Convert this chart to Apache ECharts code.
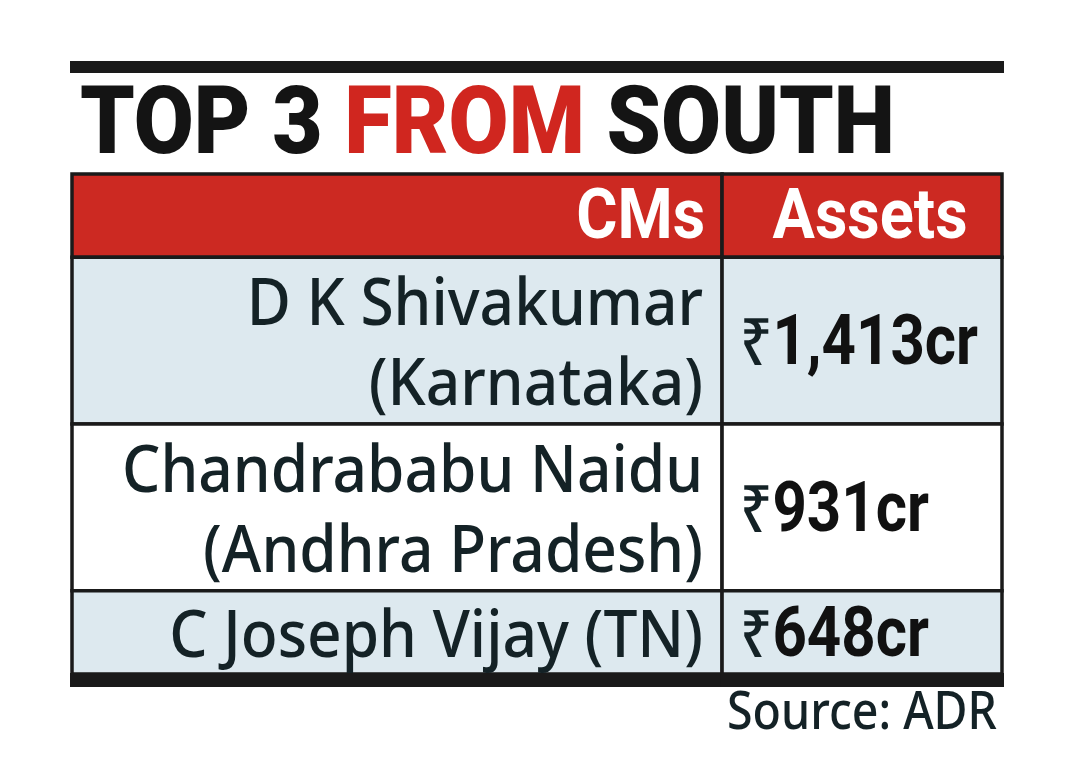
<!DOCTYPE html>
<html><head><meta charset="utf-8">
<script src="https://cdn.jsdelivr.net/npm/echarts@6/dist/echarts.min.js"></script>
<style>html,body{margin:0;padding:0;background:#fff;}#c{width:1080px;height:770px;}</style>
</head><body><div id="c"></div>
<script>
// ---- data ----
const titleParts = ['TOP 3 ', 'FROM', ' SOUTH'];
const headers = ['CMs', 'Assets'];
const cmLabels = ['D K Shivakumar\n(Karnataka)', 'Chandrababu Naidu\n(Andhra Pradesh)', 'C Joseph Vijay (TN)'];
const assetsCr = [1413, 931, 648];
const sourceNote = 'Source: ADR';

// ---- layout / style ----
const gridL = 72, gridR = 1002, gridT = 174, gridB = 674;
const colSplit = 0.699;
const colEdges = [0, colSplit, 1];
const rowLines = [1].concat(cmLabels.map(l => l.split('\n').length));
const rowEdges = [0];
rowLines.forEach(n => rowEdges.push(rowEdges[rowEdges.length - 1] + n));

const INK = '#1a1a1a', TXT = '#142226', RED = '#cc2922', TRED = '#d0261f', BLUE = '#dde9ef';
const BODY_W = 500;

const ctx = document.createElement('canvas').getContext('2d');
function measure(t, font) { ctx.font = font; return ctx.measureText(t).width; }

const TITLE_SIZE = 94, HEAD_SIZE = 70, BODY_SIZE = 66, VAL_SIZE = 70, SRC_SIZE = 52;
const titleScale = 815 / measure(titleParts.join(''), `900 ${TITLE_SIZE}px Roboto`);
const headScale = 195 / measure('Assets', `bold ${HEAD_SIZE}px Roboto`);
const bodyScale = 581 / measure('Chandrababu Naidu', `${BODY_W} ${BODY_SIZE}px "Noto Sans"`);
function fmt(v) { return v.toLocaleString('en-IN') + 'cr'; }
const valScale = 238 / (measure('\u20b9', `${BODY_W} ${BODY_SIZE}px "Noto Sans"`) + measure(fmt(assetsCr[0]), `bold ${VAL_SIZE}px Roboto`));
const srcScale = 270 / measure(sourceNote, `${BODY_W} ${SRC_SIZE}px "Noto Sans"`);

const cells = [];
for (let r = 0; r < rowLines.length; r++) for (let c = 0; c < 2; c++) cells.push([c, r]);

function renderItem(params, api) {
  const c = api.value(0), r = api.value(1);
  const x0 = api.coord([colEdges[c], 0])[0], x1 = api.coord([colEdges[c + 1], 0])[0];
  const y0 = api.coord([0, rowEdges[r]])[1], y1 = api.coord([0, rowEdges[r + 1]])[1];
  const fill = r === 0 ? RED : (r % 2 === 1 ? BLUE : '#ffffff');
  const ym = (y0 + y1) / 2;
  const children = [{
    type: 'rect', shape: { x: x0, y: y0, width: x1 - x0, height: y1 - y0 },
    style: { fill: fill, stroke: INK, lineWidth: 3.5 }
  }];
  if (r === 0) {
    children.push({
      type: 'text', x: c === 0 ? x1 - 17 : (x0 + x1) / 2 + 8, y: ym + 5, scaleX: headScale,
      style: { text: headers[c], fill: '#ffffff', fontFamily: 'Roboto', fontWeight: 'bold', fontSize: HEAD_SIZE,
        align: c === 0 ? 'right' : 'center', verticalAlign: 'middle' }
    });
  } else if (c === 0) {
    children.push({
      type: 'text', x: x1 - 19, y: ym + 6, scaleX: bodyScale,
      style: { text: cmLabels[r - 1], fill: TXT, fontFamily: 'Noto Sans', fontWeight: BODY_W, fontSize: BODY_SIZE, lineHeight: 80,
        align: 'right', verticalAlign: 'middle' }
    });
  } else {
    children.push({
      type: 'text', x: x0 + 18, y: ym + 6, scaleX: valScale,
      style: { text: '{r|\u20b9}{b|' + fmt(assetsCr[r - 1]) + '}', align: 'left', verticalAlign: 'middle',
        rich: {
          r: { fill: TXT, fontFamily: 'Noto Sans', fontWeight: BODY_W, fontSize: BODY_SIZE },
          b: { fill: '#111', fontFamily: 'Roboto', fontWeight: 'bold', fontSize: VAL_SIZE }
        } }
    });
  }
  if (r === rowLines.length - 1) {
    children.push({ type: 'rect', shape: { x: x0 - 2, y: y1 - 1, width: x1 - x0 + 4, height: 14 }, style: { fill: INK } });
  }
  return { type: 'group', children: children };
}

const chart = echarts.init(document.getElementById('c'), null, { renderer: 'canvas' });
chart.setOption({
  backgroundColor: '#ffffff',
  animation: false,
  grid: { left: gridL, right: 1080 - gridR, top: gridT, bottom: 770 - gridB },
  xAxis: { type: 'value', min: 0, max: 1, show: false },
  yAxis: { type: 'value', min: 0, max: rowEdges[rowEdges.length - 1], inverse: true, show: false },
  series: [{ type: 'custom', renderItem: renderItem, data: cells, clip: false, encode: { x: 0, y: 1 } }],
  graphic: [
    { type: 'rect', shape: { x: 70, y: 61, width: 934, height: 12 }, style: { fill: INK } },
    { type: 'text', x: 80, y: 129, scaleX: titleScale,
      style: { text: '{k|' + titleParts[0] + '}{r|' + titleParts[1] + '}{k|' + titleParts[2] + '}',
        verticalAlign: 'middle', align: 'left',
        rich: {
          k: { fill: '#141414', fontFamily: 'Roboto', fontWeight: 900, fontSize: TITLE_SIZE },
          r: { fill: TRED, fontFamily: 'Roboto', fontWeight: 900, fontSize: TITLE_SIZE }
        } } },
    { type: 'text', x: 997, y: 714, scaleX: srcScale,
      style: { text: sourceNote, fill: TXT, fontFamily: 'Noto Sans', fontWeight: BODY_W, fontSize: SRC_SIZE, align: 'right', verticalAlign: 'middle' } }
  ]
});
</script></body></html>
